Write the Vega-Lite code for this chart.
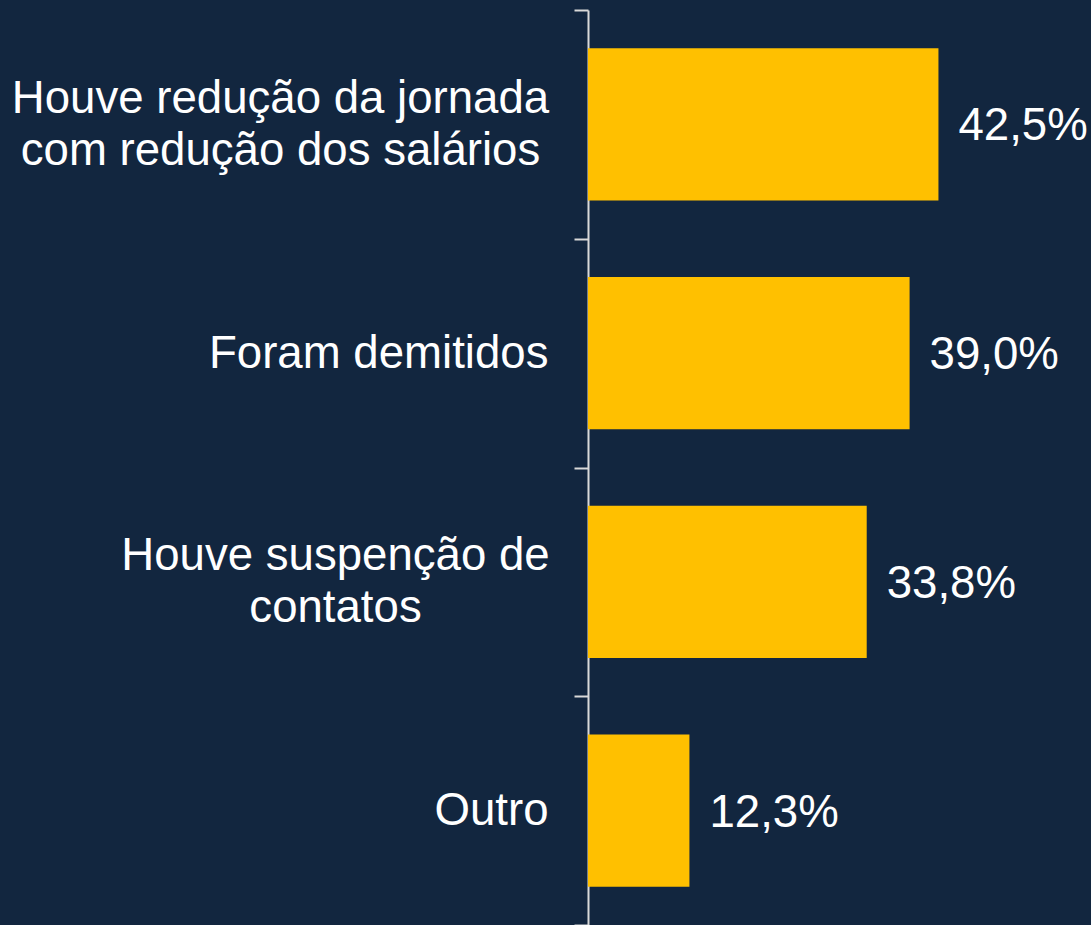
{
  "$schema": "https://vega.github.io/schema/vega-lite/v6.json",
  "width": 503,
  "height": 915,
  "autosize": "none",
  "padding": {"left": 588, "top": 10, "right": 0, "bottom": 0},
  "background": "#12263F",
  "config": {
    "view": {"stroke": null},
    "font": "Liberation Sans",
    "locale": {"number": {"decimal": ",", "thousands": ".", "grouping": [3], "currency": ["R$", ""]}}
  },
  "data": {
    "values": [
      {"categoria": "Houve redução da jornada|com redução dos salários", "valor": 0.425},
      {"categoria": "Foram demitidos", "valor": 0.39},
      {"categoria": "Houve suspenção de|contatos", "valor": 0.338},
      {"categoria": "Outro", "valor": 0.123}
    ]
  },
  "encoding": {
    "y": {
      "field": "categoria",
      "type": "nominal",
      "sort": null,
      "scale": {"paddingInner": 0, "paddingOuter": 0},
      "axis": {
        "title": null,
        "domainColor": "#D9D9D9",
        "domainWidth": 2,
        "tickColor": "#D9D9D9",
        "tickWidth": 2,
        "tickSize": 14,
        "tickBand": "extent",
        "labelColor": "#FFFFFF",
        "labelFont": "Liberation Sans",
        "labelFontSize": 45.6,
        "labelLimit": 0,
        "labelLineHeight": 52,
        "labelAlign": {"condition": {"test": "indexof(datum.label, '|') >= 0", "value": "center"}, "value": "right"},
        "labelPadding": {"condition": [
          {"test": "indexof(datum.label, 'jornada') >= 0", "value": 294},
          {"test": "indexof(datum.label, 'contatos') >= 0", "value": 239}
        ], "value": 26},
        "labelOffset": {"condition": {"test": "indexof(datum.label, '|') >= 0", "value": -26}, "value": 0},
        "labelExpr": "split(datum.label, '|')"
      }
    }
  },
  "layer": [
    {
      "mark": {"type": "bar", "color": "#FFC000", "height": {"band": 0.665}},
      "encoding": {
        "x": {"field": "valor", "type": "quantitative", "scale": {"domain": [0, 0.61], "nice": false}, "axis": null}
      }
    },
    {
      "mark": {"type": "text", "align": "left", "baseline": "middle", "dx": 20, "dy": 2, "fontSize": 45.6, "color": "#FFFFFF", "font": "Liberation Sans"},
      "encoding": {
        "x": {"field": "valor", "type": "quantitative"},
        "text": {"field": "valor", "type": "quantitative", "format": ".1%"}
      }
    }
  ]
}
